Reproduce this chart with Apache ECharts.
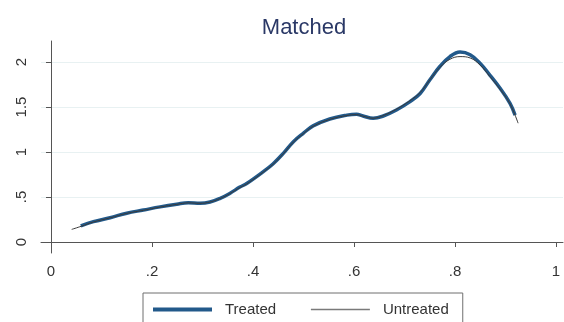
<!DOCTYPE html>
<html>
<head>
<meta charset="utf-8">
<title>Matched</title>
<script src="https://cdn.jsdelivr.net/npm/echarts@6/dist/echarts.min.js"></script>
<style>
  html, body { margin: 0; padding: 0; background: #ffffff; }
  #chart { width: 564px; height: 322px; }
</style>
</head>
<body>
<div id="chart"></div>
<script>
// Kernel density of the propensity score, matched sample
const xTicks = [0, 0.2, 0.4, 0.6, 0.8, 1];
const xTickLabels = ['0', '.2', '.4', '.6', '.8', '1'];
const yTicks = [0, 0.5, 1, 1.5, 2];
const yTickLabels = ['0', '.5', '1', '1.5', '2'];

const treatedX = [0.059, 0.084, 0.117, 0.15, 0.183, 0.216, 0.249, 0.272, 0.295, 0.315, 0.335, 0.354, 0.374, 0.3875, 0.42, 0.44, 0.46, 0.48, 0.50, 0.519, 0.552, 0.586, 0.605, 0.618, 0.638, 0.658, 0.684, 0.711, 0.731, 0.75, 0.77, 0.79, 0.81, 0.83, 0.85, 0.869, 0.889, 0.909, 0.919];
const treatedY = [0.18, 0.226, 0.27, 0.32, 0.355, 0.39, 0.42, 0.437, 0.43, 0.444, 0.485, 0.54, 0.61, 0.65, 0.78, 0.87, 0.985, 1.115, 1.21, 1.29, 1.367, 1.41, 1.42, 1.40, 1.375, 1.40, 1.467, 1.56, 1.65, 1.80, 1.95, 2.06, 2.11, 2.08, 1.985, 1.855, 1.71, 1.54, 1.41];

const untreatedX = [0.041, 0.06, 0.084, 0.117, 0.15, 0.183, 0.216, 0.249, 0.272, 0.295, 0.315, 0.335, 0.354, 0.374, 0.3875, 0.42, 0.44, 0.46, 0.48, 0.50, 0.519, 0.552, 0.586, 0.605, 0.618, 0.638, 0.658, 0.684, 0.711, 0.731, 0.75, 0.77, 0.79, 0.81, 0.83, 0.85, 0.869, 0.889, 0.909, 0.925];
const untreatedY = [0.14, 0.175, 0.222, 0.268, 0.318, 0.352, 0.388, 0.418, 0.435, 0.43, 0.444, 0.483, 0.537, 0.605, 0.645, 0.775, 0.865, 0.98, 1.11, 1.205, 1.285, 1.362, 1.405, 1.415, 1.398, 1.375, 1.405, 1.475, 1.57, 1.66, 1.80, 1.94, 2.03, 2.06, 2.045, 1.965, 1.84, 1.70, 1.535, 1.32];

const pairs = (xs, ys) => xs.map((x, i) => [x, ys[i]]);

const FONT = '"Liberation Sans", Arial, sans-serif';
const chart = echarts.init(document.getElementById('chart'), null, { renderer: 'canvas' });

chart.setOption({
  backgroundColor: '#ffffff',
  animation: false,
  title: {
    text: 'Matched',
    left: 299,
    textAlign: 'center',
    top: 12,
    textStyle: { fontFamily: FONT, fontSize: 22, fontWeight: 'normal', color: '#2a3866' }
  },
  legend: {
    left: 143,
    top: 293,
    orient: 'horizontal',
    itemWidth: 59,
    itemHeight: 14,
    itemGap: 34,
    padding: [9, 14, 20, 8],
    borderColor: '#6f6f6f',
    borderWidth: 1,
    borderRadius: 0,
    itemStyle: { opacity: 0 },
    textStyle: { fontFamily: FONT, fontSize: 15, color: '#333333', padding: [0, 0, 0, 8] },
    data: [
      { name: 'Treated', lineStyle: { color: '#22598a', width: 4 } },
      { name: 'Untreated', lineStyle: { color: '#7a7a7a', width: 1.5 } }
    ]
  },
  grid: { left: 41, right: 1, top: 41, bottom: 69, containLabel: false },
  xAxis: {
    type: 'value',
    min: -0.0198,
    max: 1.0139,
    axisLine: { show: true, lineStyle: { color: '#555555', width: 1 } },
    axisTick: { show: true, customValues: xTicks, length: 5, lineStyle: { color: '#555555' } },
    axisLabel: {
      customValues: xTicks,
      margin: 11,
      fontFamily: FONT, fontSize: 15, color: '#333333',
      formatter: v => xTickLabels[xTicks.findIndex(t => Math.abs(t - v) < 1e-9)] ?? ''
    },
    splitLine: { show: false }
  },
  yAxis: {
    type: 'value',
    min: -0.1222,
    max: 2.2333,
    axisLine: { show: true, lineStyle: { color: '#555555', width: 1 } },
    axisTick: { show: true, customValues: yTicks, length: 5, lineStyle: { color: '#555555' } },
    axisLabel: {
      customValues: yTicks,
      rotate: 90,
      margin: 12,
      fontFamily: FONT, fontSize: 15, color: '#333333',
      formatter: v => yTickLabels[yTicks.findIndex(t => Math.abs(t - v) < 1e-9)] ?? ''
    },
    splitLine: { show: true, customValues: yTicks, lineStyle: { color: '#e8f1f2', width: 1 } }
  },
  series: [
    {
      name: 'Treated',
      type: 'line',
      data: pairs(treatedX, treatedY),
      smooth: 0.4,
      symbol: 'none',
      lineStyle: { color: '#22598a', width: 3.5 },
      itemStyle: { color: '#22598a' },
      z: 2
    },
    {
      name: 'Untreated',
      type: 'line',
      data: pairs(untreatedX, untreatedY),
      smooth: 0.4,
      symbol: 'none',
      lineStyle: { color: '#3a3a3a', width: 1 },
      itemStyle: { color: '#3a3a3a' },
      z: 3
    }
  ]
});
</script>
</body>
</html>
